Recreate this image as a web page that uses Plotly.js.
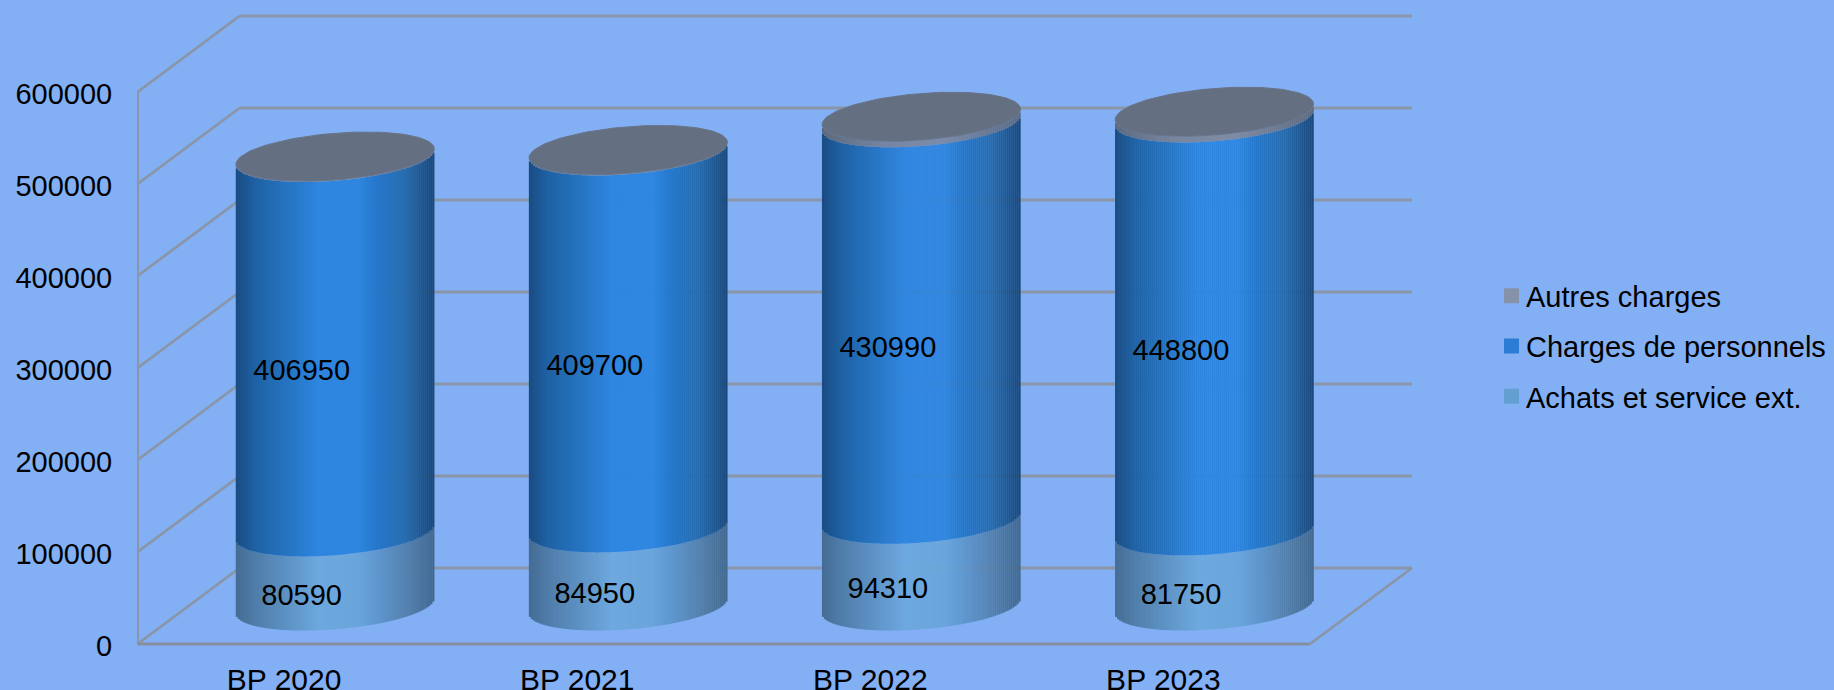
<!DOCTYPE html>
<html><head><meta charset="utf-8">
<script src="https://cdn.plot.ly/plotly-3.0.1.min.js"></script>
<style>html,body{margin:0;padding:0;background:#83AFF5;overflow:hidden}#c{width:1834px;height:690px}</style>
</head><body><div id="c"></div>
<script>
const categories = ['BP 2020','BP 2021','BP 2022','BP 2023'];
const achats = [80590,84950,94310,81750];
const personnels = [406950,409700,430990,448800];
const autres = [1000,1000,6500,6700];
const yTicks = [0,100000,200000,300000,400000,500000,600000];

// scale of the drawing
const W=1834,H=690,L=137,T=6,B=44;
const pxPerX=293.1, pxPerY=0.00092;
const xAt0=284.1;
const xMin=(L-xAt0)/pxPerX, xMax=(W-xAt0)/pxPerX;
const yMin=-2174, yMax=yMin+(H-T-B)/pxPerY;
const depthX=102/pxPerX, depthY=76/pxPerY;
const R=99.2/pxPerX, ellB=23.3/pxPerY, ellS=7.7/pxPerY;
const gridColor='#8A95A8';
const font='"Liberation Sans", Arial, sans-serif';

function lerpStops(stops,t){
  for(let i=1;i<stops.length;i++){
    if(t<=stops[i][0]){
      const a=stops[i-1],b=stops[i],f=(t-a[0])/(b[0]-a[0]);
      return 'rgb('+[1,2,3].map(k=>Math.round(a[k]+(b[k]-a[k])*f)).join(',')+')';
    }
  }
  const e=stops[stops.length-1];return 'rgb('+e[1]+','+e[2]+','+e[3]+')';
}
const blueStops=[[0,26,76,130],[0.1,31,98,165],[0.25,37,115,192],[0.42,46,134,224],[0.62,46,134,224],[0.72,35,118,200],[0.85,38,108,175],[1,26,72,122]];
const lightStops=[[0,68,108,148],[0.1,80,125,170],[0.25,92,145,195],[0.42,109,168,222],[0.62,105,165,218],[0.72,93,150,205],[0.85,85,130,175],[1,66,104,142]];
const greyStops=[[0,92,106,128],[0.3,118,132,158],[0.6,124,138,164],[1,92,106,128]];

const N=99;
function segment(lower,upper,stops,name){
  const xs=[],base=[],h=[],col=[],ws=[];
  categories.forEach((c,i)=>{
    const cx=i+depthX/2;
    for(let k=0;k<N;k++){
      const t=(k+0.5)/N,u=2*t-1;
      xs.push(cx+u*R);
      base.push(lower[i]+depthY/2-ellB*Math.sqrt(1-u*u)+ellS*u);
      h.push(upper[i]-lower[i]);
      col.push(lerpStops(stops,t));
      ws.push(2*R/N*1.15);
    }
  });
  return {type:'bar',name:name,x:xs,y:h,base:base,width:ws,marker:{color:col,line:{width:0}},showlegend:false,hoverinfo:'skip'};
}

// wireframe goes under the cylinders
const x0=-0.5,x1=3.5;
function seg(xa,ya,xb,yb,w,c){
  return {type:'line',layer:'below',xref:'x',yref:'y',x0:xa,y0:ya,x1:xb,y1:yb,line:{color:c||gridColor,width:w||2.8}};
}
const shapes=[];
yTicks.forEach(v=>{
  shapes.push(seg(x0,v,x0+depthX,v+depthY));
  shapes.push(seg(x0+depthX,v+depthY,x1+depthX,v+depthY));
});
shapes.push(seg(x0,0,x0,yTicks[yTicks.length-1]));
shapes.push(seg(x0,0,x1,0,3,'#8890A0'));
shapes.push(seg(x1,0,x1+depthX,depthY));

const traces=[];
const top1=achats, top2=achats.map((v,i)=>v+personnels[i]), top3=top2.map((v,i)=>v+autres[i]);
const zeros=achats.map(()=>0);
traces.push(segment(zeros,top1,lightStops,'Achats et service ext.'));
traces.push(segment(top1,top2,blueStops,'Charges de personnels'));
traces.push(segment(top2,top3,greyStops,'Autres charges'));

// cap of each cylinder
categories.forEach((c,i)=>{
  const xs=[],ys=[],cx=i+depthX/2;
  for(let a=0;a<=360;a+=3){
    const r=a*Math.PI/180;
    xs.push(cx+R*Math.cos(r));
    ys.push(top3[i]+depthY/2+ellS*Math.cos(r)+ellB*Math.sin(r));
  }
  traces.push({type:'scatter',mode:'lines',x:xs,y:ys,fill:'toself',fillcolor:'#646F82',line:{color:'#687488',width:1},showlegend:false,hoverinfo:'skip'});
});

// value labels
const lx=0.06, ly=10300;
function labels(lower,vals){
  return {type:'scatter',mode:'text',x:categories.map((c,i)=>i+lx),y:vals.map((v,i)=>lower[i]+v/2+ly),
    text:vals.map(String),textposition:'middle center',textfont:{family:font,size:29,color:'#000'},showlegend:false,hoverinfo:'skip'};
}
traces.push(labels(zeros,achats));
traces.push(labels(top1,personnels));

// legend entries
[['Autres charges','#8592A9'],['Charges de personnels','#2C7CD6'],['Achats et service ext.','#649FD2']].forEach(e=>{
  traces.push({type:'scatter',mode:'markers',name:e[0],legendgroup:e[0],x:[null],y:[null],marker:{symbol:'square',size:15,color:e[1]},showlegend:true});
});

const layout={
  width:W,height:H,autosize:false,
  margin:{l:L,r:0,t:T,b:B,pad:0},
  paper_bgcolor:'#83AFF5',plot_bgcolor:'rgba(0,0,0,0)',
  barmode:'overlay',hovermode:false,shapes:shapes,
  font:{family:font,size:29,color:'#000'},
  xaxis:{range:[xMin,xMax],tickvals:categories.map((c,i)=>i),ticktext:categories,showgrid:false,zeroline:false,showline:false,
    ticks:'outside',ticklen:7,tickcolor:'rgba(0,0,0,0)',tickfont:{family:font,size:30,color:'#000'},automargin:false},
  yaxis:{range:[yMin,yMax],tickvals:yTicks,ticktext:yTicks.map(String),showgrid:false,zeroline:false,showline:false,
    ticks:'outside',ticklen:18,tickcolor:'rgba(0,0,0,0)',tickfont:{family:font,size:29,color:'#000'},automargin:false,ticklabelshift:2},
  legend:{x:(1486-L)/(W-L),xanchor:'left',y:(646-346.5)/(H-T-B),yanchor:'middle',bgcolor:'rgba(0,0,0,0)',borderwidth:0,
    font:{family:font,size:29,color:'#000'},tracegroupgap:9.5,itemclick:false,itemdoubleclick:false}
};
Plotly.newPlot('c',traces,layout,{displayModeBar:false,staticPlot:true,responsive:false}).then(()=>{
  document.querySelectorAll('.legend .legendpoints').forEach(g=>g.setAttribute('transform','translate(5.5,0)'));
});
</script></body></html>
